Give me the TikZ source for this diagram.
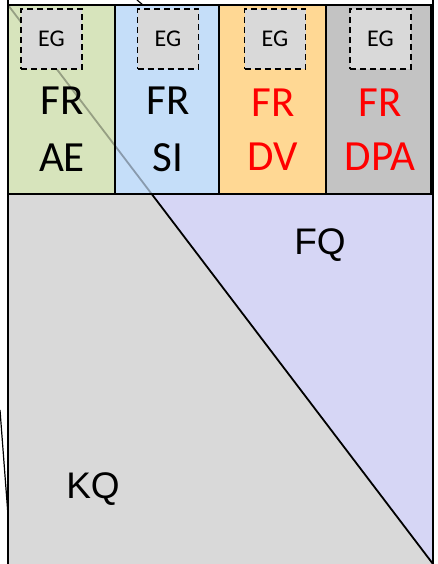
\documentclass[tikz,border=0pt]{standalone}
\usepackage{fontspec}
\newfontfamily\calfont{Carlito}
\newfontfamily\arialfont{Liberation Sans}
\definecolor{kqgray}{HTML}{D9D9D9}
\definecolor{fqlav}{HTML}{D6D6F5}
\definecolor{aegreen}{HTML}{D7E4BC}
\definecolor{siblue}{HTML}{C5DEF9}
\definecolor{dvorange}{HTML}{FFD894}
\definecolor{dpagray}{HTML}{C3C3C3}
\definecolor{frred}{HTML}{FF0000}
\tikzset{
  topbox/.style={draw=black, line width=2.2pt, inner sep=0pt, outer sep=0pt, minimum width=#1, minimum height=189},
  egbox/.style={draw=black, fill=kqgray, dashed, dash pattern=on 6pt off 4pt, line width=1.8pt, inner sep=0pt, minimum width=61, minimum height=60, font=\calfont\fontsize{24}{26}\selectfont},
  frtext/.style={inner sep=0pt, font=\calfont\fontsize{43}{45}\selectfont},
  qtext/.style={inner sep=0pt, font=\arialfont\fontsize{37}{39}\selectfont},
  frame/.style={line width=2.2pt},
  diag/.style={line width=1.8pt},
}
\begin{document}
\begin{tikzpicture}[x=1pt,y=-1pt]
\useasboundingbox (0,0) rectangle (437,564);
\clip (0,0) rectangle (437,564);
% lower regions
\coordinate (tl) at (8,5);
\coordinate (tr) at (433,5);
\coordinate (br) at (433,564);
\fill[kqgray] (8,5) rectangle (433,570);
\fill[fqlav] (tl) -- (tr) -- (br) -- cycle;
\draw[diag] (tl) -- (br);
\draw[frame] (8,0) -- (8,570);
\draw[frame] (433,0) -- (433,570);
\draw[frame] (8,194) -- (433,194);
% top boxes
\node[topbox=107, fill=aegreen] (b1) at (61.5,99.5) {};
\node[topbox=104, fill=siblue] (b2) at (167,99.5) {};
\node[topbox=107, fill=dvorange] (b3) at (272.5,99.5) {};
\node[topbox=105, fill=dpagray] (b4) at (378.5,99.5) {};
% faint diagonal seen through the boxes
\begin{scope}
\clip (8,5) rectangle (433,194);
\draw[diag, draw opacity=0.3] (tl) -- (br);
\end{scope}
% EG boxes
\node[egbox] (eg1) at (51.5,39) {EG};
\node[egbox] (eg2) at (168,39) {EG};
\node[egbox] (eg3) at (275,39) {EG};
\node[egbox] (eg4) at (380.5,39) {EG};
% labels
\node[frtext] (fr1) at (62,101) {FR};
\node[frtext] (ae) at (62,158) {AE};
\node[frtext] (fr2) at (168,101) {FR};
\node[frtext] (si) at (168,158) {SI};
\node[frtext, text=frred] (fr3) at (273,103) {FR};
\node[frtext, text=frred] (dv) at (273,157) {DV};
\node[frtext, text=frred] (fr4) at (380,103) {FR};
\node[frtext, text=frred] (dpa) at (380,157) {DPA};
\node[qtext] (fq) at (320,245) {FQ};
\node[qtext] (kq) at (93,489) {KQ};
% stray connector ends
\coordinate (t1) at (137,0);
\coordinate (t2) at (143,5);
\draw[line width=1.2pt] (t1) -- (t2);
\coordinate (l1) at (0,410);
\coordinate (l2) at (8,515);
\draw[line width=1.2pt] (l1) -- (l2);
\end{tikzpicture}
\end{document}
